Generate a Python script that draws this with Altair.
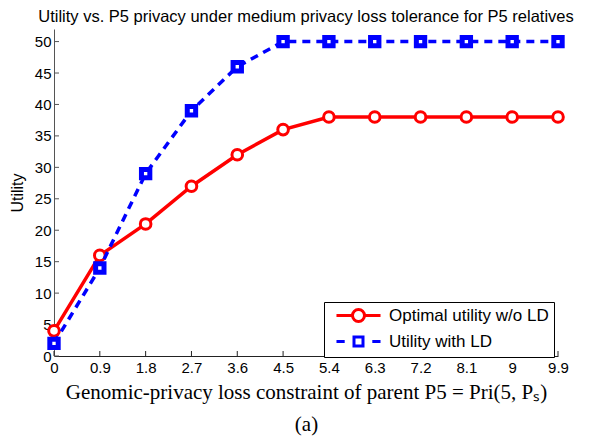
import altair as alt
import pandas as pd

x_vals = [0, 0.9, 1.8, 2.7, 3.6, 4.5, 5.4, 6.3, 7.2, 8.1, 9, 9.9]
red_vals = [4, 16, 21, 27, 32, 36, 38, 38, 38, 38, 38, 38]
blue_vals = [2, 14, 29, 39, 46, 50, 50, 50, 50, 50, 50, 50]
series_names = ["Optimal utility w/o LD", "Utility with LD"]
y_ticks = [0, 5, 10, 15, 20, 25, 30, 35, 40, 45, 50]

W, H = 504, 327

df = pd.DataFrame({
    "x": x_vals * 2,
    "y": red_vals + blue_vals,
    "series": [series_names[0]] * len(x_vals) + [series_names[1]] * len(x_vals),
})
xt = pd.DataFrame({"x": x_vals})
yt = pd.DataFrame({"y": y_ticks})

xscale = alt.Scale(domain=[0, 9.9], nice=False, zero=False)
yscale = alt.Scale(domain=[0, 52], nice=False)

xaxis = alt.Axis(
    values=x_vals, format=".2~f", ticks=False, grid=False, labelFontSize=15,
    labelFont="Liberation Sans", labelColor="black", labelPadding=4,
    domainColor="#222", domainWidth=1,
    title=["Genomic-privacy loss constraint of parent P5 = Pri(5, Pₛ)", "(a)"],
    titleFont="Liberation Serif", titleFontSize=21, titleFontWeight="normal",
    titleColor="black", titlePadding=6, titleLineHeight=32, labelFlush=False,
)
yaxis = alt.Axis(
    values=y_ticks, ticks=False, grid=False, labelFontSize=15, labelFont="Liberation Sans",
    labelColor="black", labelPadding=3, domainColor="#555", domainWidth=1,
    title="Utility", titleFont="Liberation Sans", titleFontSize=16,
    titleFontWeight="normal", titleColor="black", titleX=-32, titleBaseline="alphabetic",
)

X = alt.X("x:Q", scale=xscale, axis=xaxis)
Y = alt.Y("y:Q", scale=yscale, axis=yaxis)

base = alt.Chart(df).encode(x=X, y=Y)
red = base.transform_filter(alt.datum.series == series_names[0])
blue = base.transform_filter(alt.datum.series == series_names[1])

red_line = red.mark_line(color="#ff0000", strokeWidth=3.5)
red_pts = red.mark_point(shape="circle", size=113, filled=True, fill="white",
                         stroke="#ff0000", strokeWidth=3, opacity=1)
blue_line = blue.mark_line(color="#0000ff", strokeWidth=3.5, strokeDash=[8, 6])
blue_pts = blue.mark_point(shape="square", size=70, filled=True, fill="white",
                           stroke="#0000ff", strokeWidth=5, opacity=1)

xticks = alt.Chart(xt).mark_rule(color="#222", strokeWidth=1).encode(
    x=X, y=alt.value(H), y2=alt.value(H - 5))
yticks = alt.Chart(yt).mark_rule(color="#555", strokeWidth=1).encode(
    y=Y, x=alt.value(0), x2=alt.value(5))

red_path = "M-3.67,0H-1M1,0H3.67M-1,0A1,1 0 1,1 1,0A1,1 0 1,1 -1,0Z"
blue_path = "M-3.67,0H-2.3M2.3,0H3.67M-0.75,-0.75H0.75V0.75H-0.75Z"

legend_layer = alt.Chart(df).mark_point(opacity=0, filled=False).encode(
    x=X, y=Y,
    color=alt.Color("series:N", scale=alt.Scale(domain=series_names, range=["#ff0000", "#0000ff"]),
                    legend=alt.Legend(
                        orient="none", legendX=270, legendY=273, title=None,
                        fillColor="white", strokeColor="black", padding=5,
                        labelFontSize=17, labelFont="Liberation Sans", labelColor="black",
                        symbolSize=144, symbolStrokeWidth=3, symbolOpacity=1,
                        symbolFillColor="white", symbolOffset=21, labelOffset=22,
                        rowPadding=3, labelLimit=300)),
    shape=alt.Shape("series:N", scale=alt.Scale(domain=series_names, range=[red_path, blue_path]),
                    legend=None),
)

chart = alt.layer(
    xticks, yticks, red_line, red_pts, blue_line, blue_pts, legend_layer
).properties(
    width=W, height=H,
    title=alt.TitleParams(
        "Utility vs. P5 privacy under medium privacy loss tolerance for P5 relatives",
        font="Liberation Sans", fontSize=16.5, fontWeight="normal", color="black",
        anchor="middle", offset=2),
    autosize=alt.AutoSizeParams(type="none"),
    padding={"left": 46, "top": 21, "right": 26, "bottom": 84},
).configure_view(stroke=None)

chart.save("out.html", embed_options={"renderer": "svg", "actions": False})
